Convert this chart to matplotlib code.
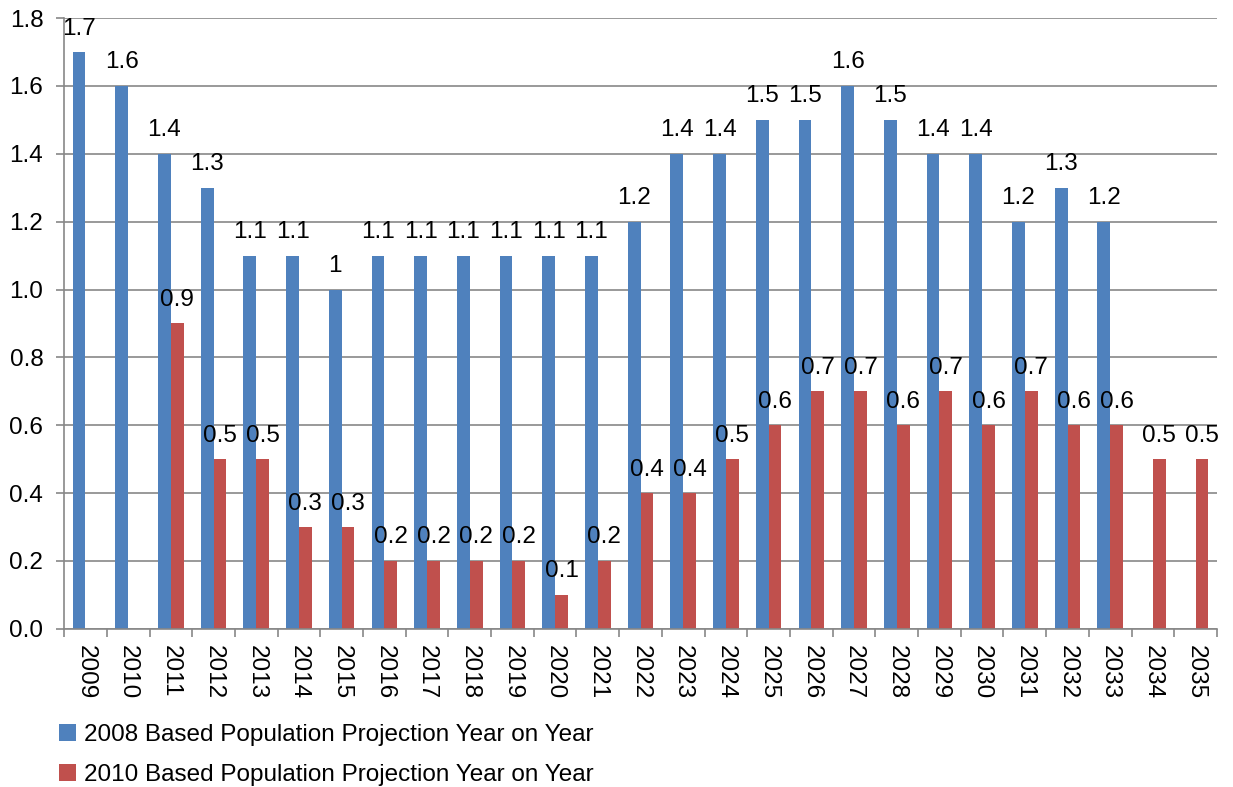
import numpy as np
import matplotlib.pyplot as plt
from matplotlib.ticker import FixedLocator

plt.rcParams['font.family'] = ['Liberation Sans', 'DejaVu Sans']

years = [str(y) for y in range(2009, 2036)]
proj_2008 = [1.7, 1.6, 1.4, 1.3, 1.1, 1.1, 1.0, 1.1, 1.1, 1.1, 1.1, 1.1, 1.1,
             1.2, 1.4, 1.4, 1.5, 1.5, 1.6, 1.5, 1.4, 1.4, 1.2, 1.3, 1.2,
             np.nan, np.nan]
proj_2010 = [np.nan, np.nan, 0.9, 0.5, 0.5, 0.3, 0.3, 0.2, 0.2, 0.2, 0.2, 0.1, 0.2,
             0.4, 0.4, 0.5, 0.6, 0.7, 0.7, 0.6, 0.7, 0.6, 0.7, 0.6, 0.6,
             0.5, 0.5]
series_names = ['2008 Based Population Projection Year on Year',
                '2010 Based Population Projection Year on Year']
colors = ['#4F81BD', '#C0504D']
fs = 17.5

fig = plt.figure(figsize=(12.33, 7.87), dpi=100)
ax = fig.add_axes([0.052, 0.201, 0.935, 0.776])

x = np.arange(len(years))
w = 0.3
b1 = ax.bar(x - w / 2, proj_2008, w, color=colors[0], label=series_names[0], zorder=2)
b2 = ax.bar(x + w / 2, proj_2010, w, color=colors[1], label=series_names[1], zorder=2)

for bars, vals in [(b1, proj_2008), (b2, proj_2010)]:
    for rect, v in zip(bars, vals):
        if np.isnan(v):
            continue
        ax.annotate('%g' % v, (rect.get_x() + rect.get_width() / 2, v),
                    xytext=(0, 9), textcoords='offset points',
                    ha='center', va='bottom', fontsize=fs, color='black')

ax.set_xlim(-0.5, len(years) - 0.5)
ax.set_ylim(0, 1.8)
ticks = np.arange(0, 1.81, 0.2)
ax.set_yticks(ticks)
ax.set_yticklabels(['%.1f' % t for t in ticks], fontsize=fs)

ax.set_xticks(x)
ax.set_xticklabels(years, rotation=-90, fontsize=fs)
ax.tick_params(axis='x', which='major', length=0, pad=12)
ax.xaxis.set_minor_locator(FixedLocator(np.arange(-0.5, len(years), 1)))
ax.tick_params(axis='x', which='minor', length=6, color='#878787', width=1.2)
ax.tick_params(axis='y', length=6, color='#878787', width=1.2, pad=9)

ax.grid(axis='y', color='#878787', linewidth=1.2, zorder=0)
ax.set_axisbelow(True)
for s in ['top', 'right']:
    ax.spines[s].set_visible(False)
for s in ['left', 'bottom']:
    ax.spines[s].set_color('#878787')
    ax.spines[s].set_linewidth(1.2)

fig.legend(loc='upper left', bbox_to_anchor=(0.034, 0.102), frameon=False,
           fontsize=fs, handlelength=0.7, handleheight=0.7, handletextpad=0.35,
           labelspacing=0.75, borderpad=0.2)

fig.savefig('out.png', dpi=100)
